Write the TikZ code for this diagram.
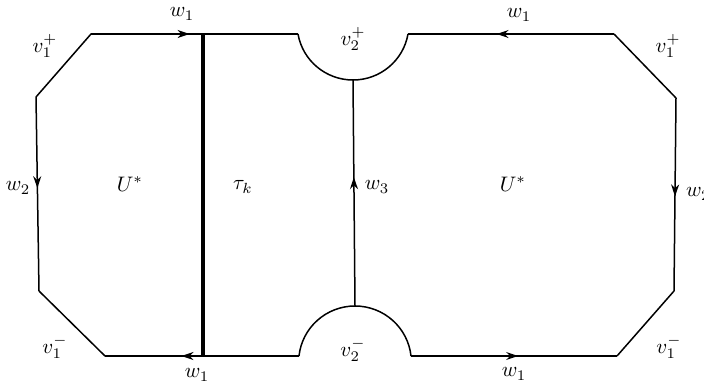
\documentclass[tikz,border=0pt]{standalone}
\usepackage{graphicx}
\usetikzlibrary{arrows.meta,decorations.markings}
\newcommand{\biglab}[1]{\scalebox{2.1}{$#1$}}
\tikzset{
  edge/.style={line width=1.5pt, line join=miter},
  thickedge/.style={line width=3.8pt},
  marrow/.style={postaction={decorate,decoration={markings,
     mark=at position #1 with {\arrow{Stealth[length=12pt,width=8pt]}}}}},
  lbl/.style={inner sep=0pt}
}
\begin{document}
\begin{tikzpicture}[x=1pt,y=-1pt]
\useasboundingbox (0,0) rectangle (704,388);
% vertices
\coordinate (TL1) at (91,34);
\coordinate (L1) at (36,97);
\coordinate (L2) at (39,291);
\coordinate (BL1) at (105,356);
\coordinate (TT) at (203,34);
\coordinate (TB) at (203,356);
\coordinate (A1) at (298,34);
\coordinate (AB) at (353,80);
\coordinate (A2) at (408,34);
\coordinate (B1) at (299,356);
\coordinate (BT) at (355,306);
\coordinate (B2) at (411,356);
\coordinate (TR1) at (614,34);
\coordinate (R1) at (676,98);
\coordinate (R2) at (674,291);
\coordinate (BR1) at (617,356);
% left polygon
\draw[edge] (TT) -- (TL1) -- (L1);
\draw[edge] (L2) -- (BL1);
\draw[edge, marrow=0.47] (L1) -- (L2);
\draw[edge, marrow=0.88] (TL1) -- (TT);
\draw[edge, marrow=0.22] (TB) -- (BL1);
% thick chord
\draw[thickedge] (TT) -- (TB);
% top and bottom middle
\draw[edge] (TT) -- (A1);
\draw[edge] (TB) -- (B1);
\draw[edge] (A1) .. controls (302.6,60.5) and (325.8,80) .. (AB)
               .. controls (380.2,80) and (403.4,60.5) .. (A2);
\draw[edge] (B1) .. controls (302.1,327.5) and (326.3,306) .. (BT)
               .. controls (383.7,306) and (407.9,327.5) .. (B2);
\draw[edge, marrow=0.57] (BT) -- (AB);
% right polygon
\draw[edge, marrow=0.57] (TR1) -- (A2);
\draw[edge] (TR1) -- (R1);
\draw[edge, marrow=0.51] (R1) -- (R2);
\draw[edge] (R2) -- (BR1);
\draw[edge, marrow=0.52] (B2) -- (BR1);
% labels
\node[lbl] (w1a) at (182,14) {\biglab{w_1}};
\node[lbl] (v1pa) at (45,46) {\biglab{v_1^+}};
\node[lbl] (v2p) at (353,39) {\biglab{v_2^+}};
\node[lbl] (w1b) at (519,15) {\biglab{w_1}};
\node[lbl] (v1pb) at (668,46) {\biglab{v_1^+}};
\node[lbl] (w2a) at (18,188) {\biglab{w_2}};
\node[lbl] (Ua) at (130,184) {\biglab{U^*}};
\node[lbl] (tau) at (243,187) {\biglab{\tau_k}};
\node[lbl] (w3) at (377,187) {\biglab{w_3}};
\node[lbl] (Ub) at (513,184) {\biglab{U^*}};
\node[lbl, anchor=west] (w2b) at (686,194) {\biglab{w_2}};
\node[lbl] (v1ma) at (55,347) {\biglab{v_1^-}};
\node[lbl] (w1c) at (197,375) {\biglab{w_1}};
\node[lbl] (v2m) at (353,350) {\biglab{v_2^-}};
\node[lbl] (w1d) at (514,374) {\biglab{w_1}};
\node[lbl] (v1mb) at (669,347) {\biglab{v_1^-}};
\end{tikzpicture}
\end{document}
